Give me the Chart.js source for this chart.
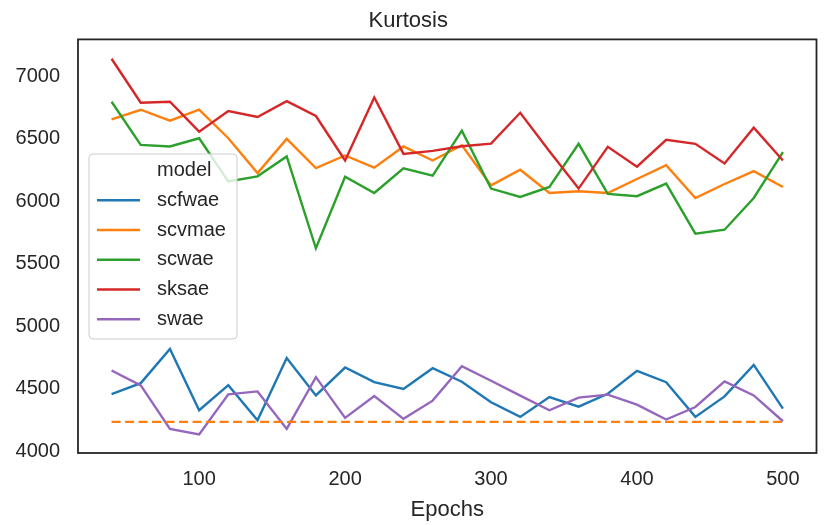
<!DOCTYPE html>
<html>
<head>
<meta charset="utf-8">
<script src="https://cdn.jsdelivr.net/npm/chart.js@4"></script>
<style>
  html, body { margin: 0; padding: 0; background: #ffffff; }
  #wrap { width: 825px; height: 525px; }
</style>
</head>
<body>
<div id="wrap"><canvas id="kurtosisChart" width="825" height="525"></canvas></div>
<script>
/* ==========================================
   Kurtosis per model over epochs
========================================== */

const epochs = [40, 60, 80, 100, 120, 140, 160, 180, 200, 220, 240, 260,
                280, 300, 320, 340, 360, 380, 400, 420, 440, 460, 480, 500];

const seriesNames = ["scfwae", "scvmae", "scwae", "sksae", "swae"];

const scfwae = [4457, 4544, 4818, 4327, 4528, 4247, 4746, 4446, 4669, 4552, 4497, 4664,
                4555, 4391, 4274, 4433, 4356, 4459, 4642, 4552, 4274, 4438, 4690, 4340];
const scvmae = [6655, 6732, 6645, 6732, 6504, 6225, 6499, 6265, 6366, 6268, 6438, 6326,
                6448, 6127, 6252, 6066, 6080, 6066, 6178, 6289, 6026, 6138, 6241, 6114];
const scwae  = [6796, 6451, 6438, 6504, 6159, 6199, 6358, 5623, 6196, 6066, 6263, 6204,
                6565, 6101, 6034, 6114, 6459, 6058, 6040, 6141, 5740, 5772, 6026, 6393];
const sksae  = [7140, 6788, 6796, 6557, 6721, 6674, 6801, 6682, 6326, 6830, 6379, 6403,
                6440, 6461, 6708, 6400, 6101, 6435, 6276, 6491, 6459, 6302, 6589, 6326];
const swae   = [4645, 4526, 4178, 4133, 4454, 4478, 4178, 4592, 4266, 4441, 4258, 4404,
                4680, 4563, 4444, 4327, 4428, 4452, 4372, 4253, 4353, 4558, 4446, 4239];

// dashed reference level (not in legend)
const baselineEpochs = [40, 500];
const baselineValues = [4234, 4234];

const xTicks = [100, 200, 300, 400, 500];
const yTicks = [4000, 4500, 5000, 5500, 6000, 6500, 7000];

const seriesValues = [scfwae, scvmae, scwae, sksae, swae];
const colors = ["#1f77b4", "#ff7f0e", "#2ca02c", "#d62728", "#9467bd"];

const TEXT = "#262626";
const FONT = "'Liberation Sans', Arial, sans-serif";

const toPoints = (xs, ys) => xs.map((x, i) => ({ x: x, y: ys[i] }));

const datasets = seriesNames.map((name, i) => ({
  label: name,
  data: toPoints(epochs, seriesValues[i]),
  borderColor: colors[i],
  backgroundColor: colors[i],
  borderWidth: 2.4,
  pointRadius: 0,
  tension: 0,
  order: 10 - i
}));

datasets.push({
  label: "baseline",
  data: toPoints(baselineEpochs, baselineValues),
  borderColor: "#ff7f0e",
  borderWidth: 2.4,
  borderDash: [9, 4.5],
  pointRadius: 0,
  order: 0,
  hideInLegend: true
});

/* frame around the plot area */
const framePlugin = {
  id: "frame",
  afterDatasetsDraw(chart) {
    const a = chart.chartArea;
    const ctx = chart.ctx;
    ctx.save();
    ctx.strokeStyle = "#262626";
    ctx.lineWidth = 1.8;
    ctx.strokeRect(a.left, a.top, a.right - a.left, a.bottom - a.top);
    ctx.restore();
  }
};

/* seaborn-style legend inside the axes */
const legendPlugin = {
  id: "innerLegend",
  afterDatasetsDraw(chart) {
    const ctx = chart.ctx;
    const box = { x: 89, y: 154, w: 148, h: 185, r: 4 };
    const rowTop = 170.5;
    const rowStep = 29.75;

    ctx.save();
    ctx.beginPath();
    ctx.roundRect(box.x, box.y, box.w, box.h, box.r);
    ctx.fillStyle = "rgba(255,255,255,0.8)";
    ctx.fill();
    ctx.strokeStyle = "#cccccc";
    ctx.lineWidth = 1;
    ctx.stroke();

    ctx.font = "20px " + FONT;
    ctx.fillStyle = TEXT;
    ctx.textBaseline = "middle";
    ctx.textAlign = "left";
    ctx.fillText("model", 157, rowTop);

    const items = chart.data.datasets.filter(d => !d.hideInLegend);
    items.forEach((d, i) => {
      const y = rowTop + (i + 1) * rowStep;
      ctx.beginPath();
      ctx.moveTo(97, y);
      ctx.lineTo(140, y);
      ctx.strokeStyle = d.borderColor;
      ctx.lineWidth = 2.4;
      ctx.stroke();
      ctx.fillStyle = TEXT;
      ctx.fillText(d.label, 157, y);
    });
    ctx.restore();
  }
};

new Chart(document.getElementById("kurtosisChart"), {
  type: "line",
  data: { datasets: datasets },
  plugins: [framePlugin, legendPlugin],
  options: {
    responsive: false,
    animation: false,
    devicePixelRatio: 1,
    layout: { padding: { top: 0, right: 8.5, bottom: 0, left: 0 } },
    plugins: {
      legend: { display: false },
      tooltip: { enabled: false },
      title: {
        display: true,
        text: "Kurtosis",
        color: TEXT,
        font: { family: FONT, size: 22, weight: "normal" },
        padding: { top: 8, bottom: 5 }
      }
    },
    scales: {
      x: {
        type: "linear",
        min: 17,
        max: 523,
        grid: { display: false, drawTicks: false },
        border: { display: false },
        afterBuildTicks: scale => { scale.ticks = xTicks.map(v => ({ value: v })); },
        afterFit: scale => { scale.height = 72; },
        ticks: {
          color: TEXT,
          padding: 14,
          font: { family: FONT, size: 20 },
          callback: value => String(value)
        },
        title: {
          display: true,
          text: "Epochs",
          color: TEXT,
          font: { family: FONT, size: 22 },
          padding: { top: 6, bottom: 2 }
        }
      },
      y: {
        min: 3985,
        max: 7295,
        grid: { display: false, drawTicks: false },
        border: { display: false },
        afterBuildTicks: scale => { scale.ticks = yTicks.map(v => ({ value: v })); },
        afterFit: scale => { scale.width = 78; },
        ticks: {
          color: TEXT,
          padding: 18,
          font: { family: FONT, size: 20 },
          callback: value => String(value)
        }
      }
    }
  }
});
</script>
</body>
</html>
